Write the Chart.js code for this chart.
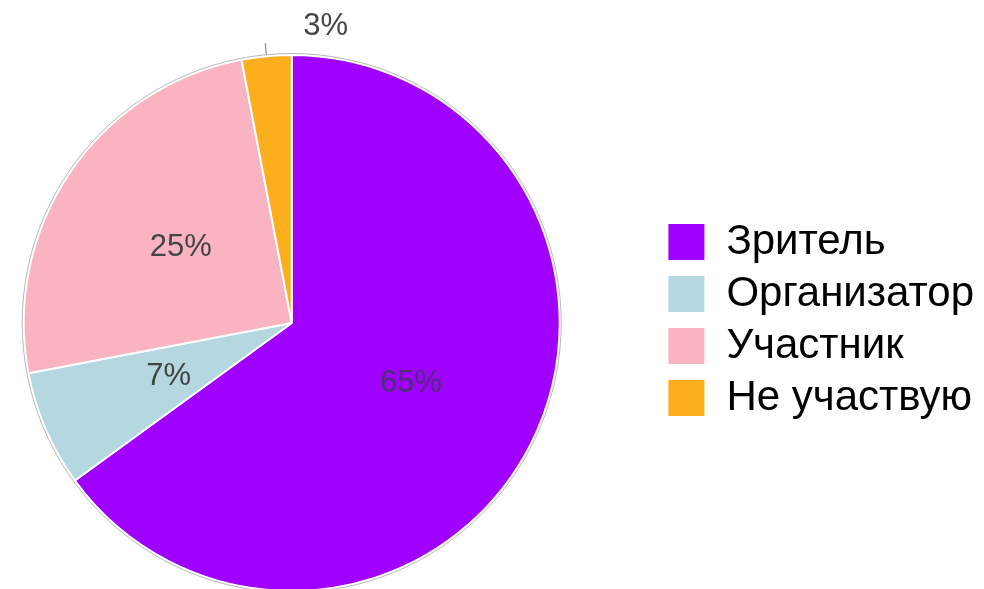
<!DOCTYPE html>
<html>
<head>
<meta charset="utf-8">
<style>
  html, body { margin: 0; padding: 0; background: #fff; overflow: hidden; width: 984px; height: 589px; }
  #wrap { position: absolute; left: -74px; top: 0; width: 1060px; height: 644px; }
</style>
</head>
<body>
<div id="wrap"><canvas id="roleChart"></canvas></div>

<script src="https://cdn.jsdelivr.net/npm/chart.js"></script>
<script>
// survey: role at the event, share of answers in %
const categories = ['Зритель', 'Организатор', 'Участник', 'Не участвую'];
const shares = [65, 7, 25, 3];
const sliceColors = ['#a000ff', '#b4d7e0', '#f9b3c1', '#fdae1c'];

const FONT = 'Arial, "Liberation Sans", sans-serif';

// percentages on slices, small ones go outside with a short leader line
const sliceLabels = {
    id: 'sliceLabels',
    afterLayout(chart) {
        // legend sits a few px above the pie centre
        chart.legend.top -= 3;
        chart.legend.bottom -= 3;
    },
    afterDatasetsDraw(chart) {
        const ctx = chart.ctx;
        const meta = chart.getDatasetMeta(0);
        ctx.save();
        ctx.font = '31px ' + FONT;
        ctx.textBaseline = 'middle';
        meta.data.forEach((arc, i) => {
            const mid = (arc.startAngle + arc.endAngle) / 2;
            const text = shares[i] + '%';
            if (shares[i] < 5) {
                const r1 = arc.outerRadius + 1, r2 = arc.outerRadius + 13;
                const x2 = arc.x + Math.cos(mid) * r2, y2 = arc.y + Math.sin(mid) * r2;
                ctx.strokeStyle = '#888';
                ctx.lineWidth = 1.2;
                ctx.beginPath();
                ctx.moveTo(arc.x + Math.cos(mid) * r1, arc.y + Math.sin(mid) * r1);
                ctx.lineTo(x2, y2);
                ctx.stroke();
                ctx.fillStyle = '#444';
                ctx.textAlign = 'left';
                ctx.fillText(text, x2 + 38, y2 - 17);
            } else {
                const r = arc.outerRadius * 0.5;
                ctx.fillStyle = i === 0 ? '#4d2f72' : '#444';
                ctx.textAlign = 'center';
                ctx.fillText(text, arc.x + Math.cos(mid) * r, arc.y + Math.sin(mid) * r);
            }
        });
        // thin grey rim round the whole pie
        const a = meta.data[0];
        ctx.strokeStyle = '#b8b8b8';
        ctx.lineWidth = 1;
        ctx.beginPath();
        ctx.arc(a.x, a.y, a.outerRadius + 1.5, 0, Math.PI * 2);
        ctx.stroke();
        ctx.restore();
    }
};

new Chart(document.getElementById('roleChart'), {
    type: 'pie',
    data: {
        labels: categories,
        datasets: [{
            data: shares,
            backgroundColor: sliceColors,
            borderColor: '#fff',
            borderWidth: 2
        }]
    },
    options: {
        responsive: true,
        maintainAspectRatio: false,
        animation: false,
        layout: { padding: { top: 54, bottom: 52, left: 0, right: 2 } },
        plugins: {
            tooltip: { enabled: false },
            legend: {
                position: 'right',
                labels: {
                    boxWidth: 38,
                    boxHeight: 38,
                    padding: 10,
                    color: '#000',
                    font: { family: FONT, size: 42 }
                }
            }
        }
    },
    plugins: [sliceLabels]
});
</script>
</body>
</html>
